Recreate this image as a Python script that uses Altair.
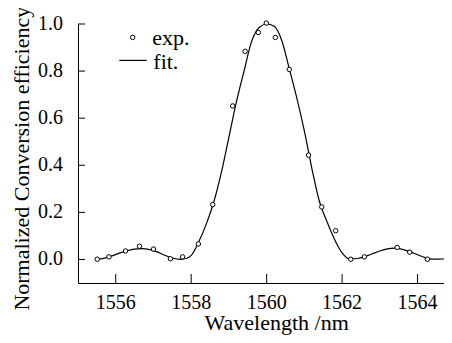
import altair as alt
import pandas as pd

# experimental points
exp_x = [1555.51, 1555.82, 1556.26, 1556.63, 1557.00, 1557.45, 1557.77, 1558.19,
         1558.57, 1559.10, 1559.43, 1559.78, 1559.99, 1560.23, 1560.60, 1561.11,
         1561.46, 1561.83, 1562.23, 1562.59, 1563.46, 1563.79, 1564.26]
exp_y = [0.001, 0.011, 0.036, 0.056, 0.044, 0.003, 0.011, 0.066,
         0.233, 0.652, 0.884, 0.964, 1.004, 0.943, 0.807, 0.443,
         0.223, 0.122, 0.001, 0.011, 0.051, 0.031, 0.001]

# fitted curve
fit_x = [1555.5, 1555.7, 1555.9, 1556.1, 1556.3, 1556.5, 1556.7, 1556.9, 1557.1,
         1557.3, 1557.5, 1557.7, 1557.9, 1558.0, 1558.2, 1558.4, 1558.6, 1558.8,
         1559.0, 1559.2, 1559.4, 1559.6, 1559.8, 1560.0, 1560.2, 1560.4, 1560.6,
         1560.8, 1561.0, 1561.2, 1561.4, 1561.6, 1561.8, 1562.0, 1562.2, 1562.4,
         1562.6, 1562.8, 1563.0, 1563.2, 1563.4, 1563.6, 1563.8, 1564.0, 1564.2,
         1564.4, 1564.7]
fit_y = [0.000, 0.006, 0.015, 0.027, 0.037, 0.044, 0.046, 0.042, 0.032,
         0.018, 0.006, 0.000, 0.006, 0.017, 0.075, 0.150, 0.245, 0.370,
         0.520, 0.670, 0.800, 0.925, 0.985, 1.000, 0.990, 0.930, 0.810,
         0.685, 0.545, 0.385, 0.245, 0.160, 0.085, 0.028, 0.002, 0.004,
         0.012, 0.024, 0.036, 0.045, 0.048, 0.043, 0.033, 0.020, 0.008,
         0.001, 0.002]

x_ticks = [1556, 1558, 1560, 1562, 1564]
x_tick_labels = ["1556", "1558", "1560", "1562", "1564"]
y_ticks = [0.0, 0.2, 0.4, 0.6, 0.8, 1.0]
y_tick_labels = ["0.0", "0.2", "0.4", "0.6", "0.8", "1.0"]
series = ["exp.", "fit."]
x_title = "Wavelength /nm"
y_title = "Normalized Conversion efficiency"

FONT = "Liberation Serif"
W, H = 366, 259

exp_df = pd.DataFrame({"x": exp_x, "y": exp_y})
fit_df = pd.DataFrame({"x": fit_x, "y": fit_y})
xt_df = pd.DataFrame({"x": x_ticks, "label": x_tick_labels})
yt_df = pd.DataFrame({"y": y_ticks, "label": y_tick_labels})
leg_exp = pd.DataFrame({"label": [series[0]]})
leg_fit = pd.DataFrame({"label": [series[1]]})
xtitle_df = pd.DataFrame({"label": [x_title]})
ytitle_df = pd.DataFrame({"label": [y_title]})

xscale = alt.Scale(domain=[1555, 1564.7], nice=False, zero=False)
yscale = alt.Scale(domain=[-0.1, 1.0], nice=False, zero=False)

xaxis = alt.Axis(labels=False, ticks=False, grid=False, title=None,
                 domainColor="black", domainWidth=1)
yaxis = alt.Axis(labels=False, ticks=False, grid=False, title=None,
                 domainColor="black", domainWidth=1)

X = lambda: alt.X("x:Q", scale=xscale, axis=xaxis)
Y = lambda: alt.Y("y:Q", scale=yscale, axis=yaxis)

line = alt.Chart(fit_df).mark_line(color="black", strokeWidth=1.2, interpolate="monotone").encode(
    x=X(), y=Y()
)

points = alt.Chart(exp_df).mark_point(shape="circle", filled=True, fill="white",
                                      stroke="black", strokeWidth=1, opacity=1, size=20).encode(
    x=X(), y=Y()
)

# inward ticks
yt = alt.Chart(yt_df).mark_rule(color="black", strokeWidth=1).encode(
    y=Y(), x=alt.value(0), x2=alt.value(7)
)
xt = alt.Chart(xt_df).mark_rule(color="black", strokeWidth=1).encode(
    x=X(), y=alt.value(H), y2=alt.value(H - 9)
)

# tick labels
ylab = alt.Chart(yt_df).mark_text(font=FONT, fontSize=20, align="right",
                                  baseline="middle", color="black").encode(
    y=Y(), x=alt.value(-15), text="label:N"
)
xlab = alt.Chart(xt_df).mark_text(font=FONT, fontSize=20, align="center",
                                  baseline="alphabetic", color="black").encode(
    x=X(), y=alt.value(284.7), text="label:N"
)

# axis titles
xtit = alt.Chart(xtitle_df).mark_text(font=FONT, fontSize=22, align="center",
                                      baseline="alphabetic", color="black").encode(
    x=alt.value(198.7), y=alt.value(305.5), text="label:N"
)
ytit = alt.Chart(ytitle_df).mark_text(font=FONT, fontSize=22, align="center",
                                      baseline="alphabetic", angle=270, color="black").encode(
    x=alt.value(-49.5), y=alt.value(134.7), text="label:N"
)

# legend (drawn in pixel space, top-left of the plot)
leg_pt = alt.Chart(leg_exp).mark_point(shape="circle", filled=True, fill="white",
                                       stroke="black", strokeWidth=1, opacity=1, size=20).encode(
    x=alt.value(54.7), y=alt.value(13.4)
)
leg_ln = alt.Chart(leg_fit).mark_rule(color="black", strokeWidth=1.2).encode(
    x=alt.value(41.3), x2=alt.value(68.7), y=alt.value(36.4)
)
leg_t1 = alt.Chart(leg_exp).mark_text(font=FONT, fontSize=22, align="left",
                                      baseline="alphabetic", color="black").encode(
    x=alt.value(74.3), y=alt.value(20.7), text="label:N"
)
leg_t2 = alt.Chart(leg_fit).mark_text(font=FONT, fontSize=22, align="left",
                                      baseline="alphabetic", color="black").encode(
    x=alt.value(75.3), y=alt.value(44.7), text="label:N"
)

chart = (
    alt.layer(line, points, yt, xt, ylab, xlab, xtit, ytit,
              leg_pt, leg_ln, leg_t1, leg_t2)
    .properties(
        width=W, height=H,
        autosize="none",
        padding={"left": 70, "top": 16, "right": 0, "bottom": 52},
    )
    .configure(background="white")
    .configure_view(stroke=None)
)

chart.save("out.html", embed_options={"renderer": "svg", "actions": False})
